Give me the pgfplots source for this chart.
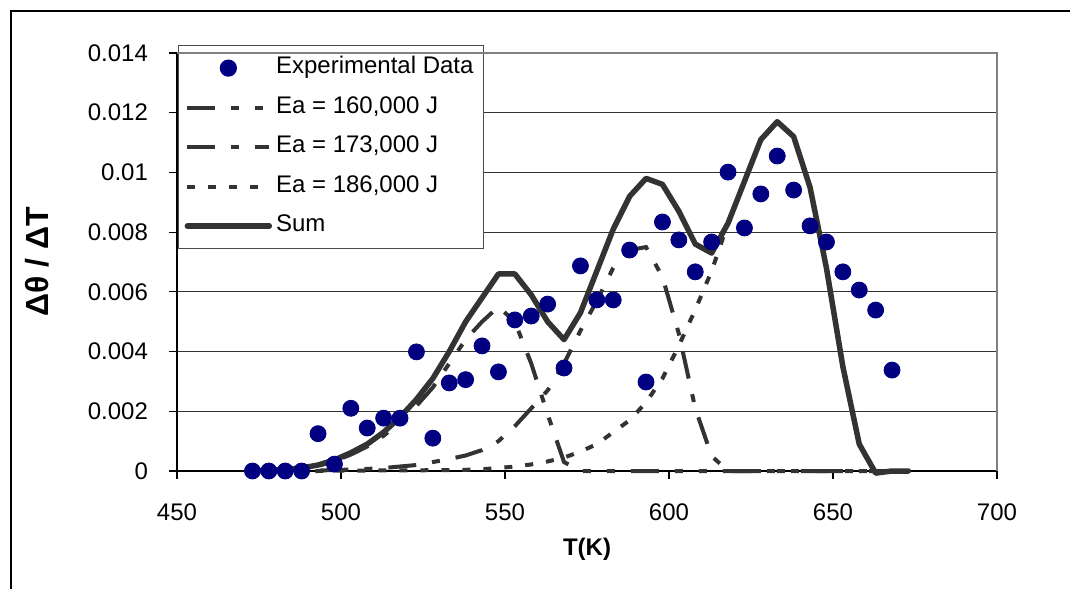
\documentclass[border=0pt]{standalone}
\usepackage{fontspec}
\setmainfont{Liberation Sans}
\usepackage{pgfplots}
\pgfplotsset{compat=1.18}
\usepackage{pgfplotstable}

\definecolor{navymark}{HTML}{000080}
\definecolor{curve}{HTML}{333333}

% measured points
\pgfplotstableread{
T v
473 0
478 0
483 0
488 0
493 0.00125
498 0.00023
503 0.0021
508 0.00144
513 0.00177
518 0.00177
523 0.00399
528 0.0011
533 0.00295
538 0.00306
543 0.00419
548 0.00332
553 0.00506
558 0.00519
563 0.00559
568 0.00345
573 0.00687
578 0.00573
583 0.00573
588 0.0074
593 0.00298
598 0.00834
603 0.00774
608 0.00667
613 0.00767
618 0.01001
623 0.00814
628 0.00928
633 0.01055
638 0.00941
643 0.00821
648 0.00767
653 0.00667
658 0.00606
663 0.00539
668 0.00338
}\expdata

% model curves
\pgfplotstableread{
T e160 e173 e186 sum
473 0.00001 0 0 0.00001
478 0.00002 0 0 0.00002
483 0.00004 0.00001 0 0.00005
488 0.00008 0.00001 0 0.0001
493 0.00017 0.00002 0 0.0002
498 0.00033 0.00003 0.00001 0.00037
503 0.00055 0.00005 0.00001 0.00061
508 0.00082 0.00007 0.00001 0.0009
513 0.00118 0.0001 0.00002 0.0013
518 0.00163 0.00015 0.00002 0.0018
523 0.00218 0.0002 0.00002 0.0024
528 0.0028 0.0003 0.00003 0.0031
533 0.0036 0.0004 0.00003 0.0040
538 0.0044 0.00052 0.00004 0.0050
543 0.0050 0.0007 0.00006 0.0058
548 0.0055 0.001 0.0001 0.0066
553 0.0050 0.0015 0.00015 0.0066
558 0.0036 0.0021 0.00022 0.0059
563 0.0019 0.0027 0.00032 0.0050
568 0.0003 0.0036 0.00045 0.0044
573 0 0.0047 0.00065 0.0053
578 0 0.0057 0.0009 0.0067
583 0 0.0068 0.0013 0.0081
588 0 0.0074 0.0017 0.0092
593 0 0.0075 0.0023 0.0098
598 0 0.0065 0.0031 0.0096
603 0 0.0046 0.0042 0.0087
608 0 0.0021 0.0054 0.0076
613 0 0.0005 0.0067 0.0073
618 0 0 0.0083 0.0083
623 0 0 0.0097 0.0097
628 0 0 0.0111 0.0111
633 0 0 0.0117 0.0117
638 0 0 0.0112 0.0112
643 0 0 0.0095 0.0095
648 0 0 0.0068 0.0068
653 0 0 0.0035 0.0035
658 0 0 0.0009 0.0009
663 0 0 -0.00007 -0.00007
668 0 0 0 0
673 0 0 0 0
}\fitdata

\begin{document}
\begin{tikzpicture}
\path[use as bounding box] (0,0) rectangle (535pt,294.5pt);
\draw[line width=0.8pt] (5.5pt,0) -- (5.5pt,289pt) -- (535pt,289pt);
\begin{axis}[
  at={(88.5pt,59pt)}, anchor=south west,
  width=410pt, height=209pt, scale only axis,
  xmin=450, xmax=700, ymin=0, ymax=0.014,
  xtick={450,500,550,600,650,700},
  xticklabels={450,500,550,600,650,700},
  ytick={0,0.002,0.004,0.006,0.008,0.010,0.012,0.014},
  yticklabels={0,0.002,0.004,0.006,0.008,0.01,0.012,0.014},
  scaled y ticks=false,
  axis x line*=bottom, axis y line*=left,
  axis line style={black, line width=0.6pt, -},
  tick align=outside, major tick length=4pt,
  tick style={black, line width=0.6pt},
  ymajorgrids, grid style={black!80, line width=0.6pt},
  tick label style={font=\fontsize{12}{14}\selectfont},
  xticklabel style={yshift=-9pt}, yticklabel style={xshift=-7pt},
  xlabel={\fontsize{12}{14}\selectfont\bfseries T(K)},
  ylabel={\fontsize{16}{18}\selectfont\bfseries Δθ / ΔT},
  every axis x label/.style={at={(axis description cs:0.5,-0.187)}, anchor=center},
  every axis y label/.style={at={(axis description cs:-0.170,0.5)}, rotate=90, anchor=center},
  clip=false,
  legend style={at={(0.0012,1.0191)}, anchor=north west, draw=black!70,
    line width=0.6pt, fill=white, inner sep=3pt, row sep=3.25pt, column sep=0pt,
    font=\fontsize{12}{14}\selectfont,
    nodes={inner sep=2pt, text height=9pt, text depth=3.5pt}},
  legend cell align=left,
  legend image code/.code={\path[draw=none] (0pt,0pt) -- (41pt,0pt);
    \draw[#1] (0pt,0pt) -- (41pt,0pt);},
  extra description/.code={\draw[black!50, line width=0.8pt]
    (rel axis cs:0,1) -- (rel axis cs:1,1) -- (rel axis cs:1,0);},
]
\addlegendimage{legend image code/.code={\path[draw=none] (0pt,0pt) -- (41pt,0pt);
    \fill[navymark] (20.5pt,0pt) circle (4pt);}}
\addlegendentry{Experimental Data}
\addplot[curve, line width=2pt, dash pattern=on 14pt off 8pt on 4pt off 8pt on 4pt off 8pt]
  table[x=T, y=e160] {\fitdata};
\addlegendentry{Ea = 160,000 J}
\addplot[curve, line width=2pt, dash pattern=on 14pt off 8pt on 4pt off 8pt]
  table[x=T, y=e173] {\fitdata};
\addlegendentry{Ea = 173,000 J}
\addplot[curve, line width=2pt, dash pattern=on 4pt off 6.5pt]
  table[x=T, y=e186] {\fitdata};
\addlegendentry{Ea = 186,000 J}
\addplot[curve, line width=2.75pt, line cap=round, line join=round]
  table[x=T, y=sum] {\fitdata};
\addlegendentry{Sum}
\addplot[only marks, mark=*, mark size=4pt, draw=navymark, fill=navymark, forget plot]
  table[x=T, y=v] {\expdata};
\end{axis}
\end{tikzpicture}
\end{document}
